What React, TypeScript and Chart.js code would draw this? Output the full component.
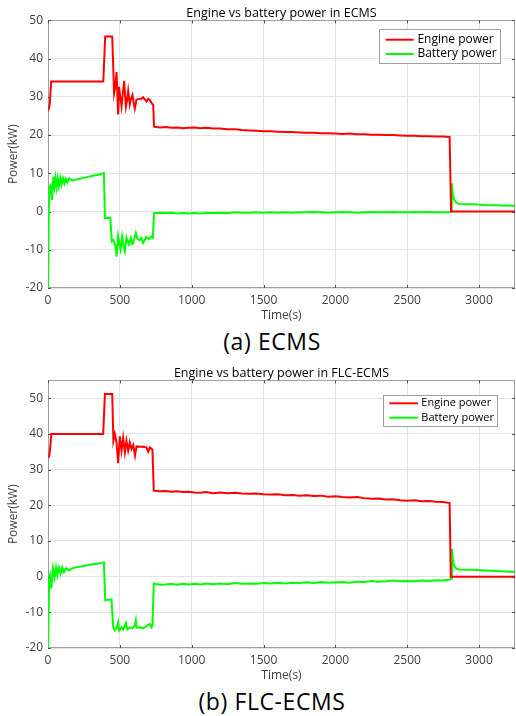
import React, { useEffect, useRef } from "react";
import { Chart, registerables } from "chart.js";

Chart.register(...registerables);

// ---------- tick labels ----------
const xTicks = [0, 500, 1000, 1500, 2000, 2500, 3000];
const yTicks = [-20, -10, 0, 10, 20, 30, 40, 50];
const X_MAX = 3250;

// ---------- (a) ECMS ----------
const ecmsEngineTime = [
  0, 10, 14, 22, 385, 398, 447, 460, 468, 477,
  488, 495, 503, 512, 521, 530, 542, 550, 558, 569,
  578, 588, 596, 604, 616, 630, 650, 662, 675, 685,
  697, 708, 724, 732, 738, 780, 820, 860, 900, 940,
  980, 1020, 1060, 1100, 1150, 1200, 1250, 1300, 1350, 1400,
  1450, 1500, 1550, 1600, 1650, 1700, 1750, 1800, 1850, 1900,
  1950, 2000, 2050, 2100, 2150, 2200, 2250, 2300, 2350, 2400,
  2450, 2500, 2550, 2600, 2650, 2700, 2750, 2795, 2805, 3250,
];
const ecmsEngineKW = [
  26.4, 27.5, 29, 34, 34, 45.8, 45.8, 30.9, 32.5, 36.5,
  25.4, 32.6, 30, 27.5, 31, 34.2, 27.4, 29, 31.6, 28,
  29.5, 30.5, 28.5, 26.9, 29.3, 29.4, 29.5, 29.9, 29.3, 28.8,
  29.5, 29.2, 28.2, 28.0, 22.2, 22.0, 22.1, 21.9, 22.0, 21.8,
  21.9, 22.0, 21.8, 21.9, 21.7, 21.7, 21.5, 21.5, 21.3, 21.2,
  21.1, 21.0, 21.0, 20.9, 20.8, 20.8, 20.7, 20.6, 20.6, 20.5,
  20.5, 20.4, 20.3, 20.4, 20.2, 20.2, 20.1, 20.1, 20.0, 20.0,
  19.9, 19.8, 19.8, 19.7, 19.7, 19.6, 19.6, 19.5, 0, 0,
];
const ecmsBatteryTime = [
  0, 7, 12, 18, 28, 37, 45, 52, 60, 68,
  76, 85, 94, 104, 114, 124, 134, 146, 170, 220,
  270, 320, 360, 389, 396, 433, 444, 454, 462, 470,
  477, 488, 497, 505, 516, 525, 535, 546, 555, 563,
  576, 585, 593, 602, 611, 623, 637, 650, 662, 673,
  685, 704, 720, 730, 738, 780, 820, 860, 900, 940,
  980, 1020, 1060, 1100, 1150, 1200, 1250, 1300, 1350, 1400,
  1450, 1500, 1550, 1600, 1650, 1700, 1750, 1800, 1850, 1900,
  1950, 2000, 2050, 2100, 2150, 2200, 2250, 2300, 2350, 2400,
  2450, 2500, 2550, 2600, 2650, 2700, 2750, 2798, 2805, 2810,
  2816, 2824, 2838, 2860, 2950, 3050, 3150, 3250,
];
const ecmsBatteryKW = [
  -20, 4.8, 6.5, 6.9, 3, 9.1, 6.5, 8.8, 6.3, 8.7,
  6.6, 8.8, 7, 8.7, 7.3, 8.6, 7.6, 8.7, 8.1, 8.6,
  9.0, 9.4, 9.7, 10.1, -1.7, -1.6, -7.8, -7.4, -8.2, -9.1,
  -11.8, -6.5, -8.5, -9.9, -6.6, -8.8, -10.4, -6.9, -8.0, -8.6,
  -6.9, -8.5, -8.2, -6.8, -5.6, -7.2, -7.5, -6.9, -8.2, -7.4,
  -6.6, -7.2, -6.5, -6.8, -0.4, -0.3, -0.4, -0.3, -0.5, -0.4,
  -0.5, -0.4, -0.5, -0.3, -0.4, -0.3, -0.4, -0.2, -0.3, -0.3,
  -0.2, -0.3, -0.2, -0.3, -0.2, -0.3, -0.2, -0.2, -0.1, -0.2,
  -0.3, -0.2, -0.1, -0.2, -0.3, -0.2, -0.1, -0.2, -0.2, -0.1,
  -0.2, -0.2, -0.1, -0.2, -0.1, -0.2, -0.2, -0.1, 0.0, 7.4,
  4.8, 3.4, 2.4, 2.0, 1.9, 1.7, 1.6, 1.5,
];

// ---------- (b) FLC-ECMS ----------
const flcEngineTime = [
  0, 9, 18, 23, 384, 396, 447, 455, 465, 477,
  488, 500, 512, 523, 535, 546, 558, 569, 581, 593,
  606, 616, 639, 662, 685, 697, 708, 720, 727, 736,
  780, 820, 860, 900, 940, 980, 1020, 1060, 1100, 1150,
  1200, 1250, 1300, 1350, 1400, 1450, 1500, 1550, 1600, 1650,
  1700, 1750, 1800, 1850, 1900, 1950, 2000, 2050, 2100, 2150,
  2200, 2250, 2300, 2350, 2400, 2450, 2500, 2550, 2600, 2650,
  2700, 2750, 2795, 2803, 3250,
];
const flcEngineKW = [
  33.2, 33.9, 37.2, 40, 40, 51.2, 51.2, 38.1, 40, 37.6,
  31.8, 39.3, 35.3, 38.9, 34.8, 38.1, 35.3, 37.6, 35.8, 36.9,
  33.9, 36.5, 36.4, 36.4, 36.2, 35, 36.2, 35.8, 35.6, 24.1,
  23.9, 24.0, 23.8, 23.9, 23.7, 23.8, 23.6, 23.5, 23.7, 23.4,
  23.6, 23.4, 23.5, 23.3, 23.2, 23.3, 23.1, 23.0, 23.1, 22.8,
  22.9, 22.7, 22.8, 22.6, 22.7, 22.4, 22.5, 22.3, 22.2, 22.3,
  22.0, 21.8, 21.9, 21.6, 21.7, 21.4, 21.3, 21.4, 21.1, 21.2,
  21.0, 20.9, 20.6, 0, 0,
];
const flcBatteryTime = [
  0, 8, 14, 23, 35, 46, 56, 65, 76, 88,
  99, 111, 127, 146, 169, 192, 240, 290, 340, 389,
  398, 442, 454, 465, 477, 488, 495, 512, 523, 542,
  553, 569, 588, 604, 611, 616, 639, 662, 685, 708,
  720, 727, 736, 780, 820, 860, 900, 940, 980, 1020,
  1060, 1100, 1150, 1200, 1250, 1300, 1350, 1400, 1450, 1500,
  1550, 1600, 1650, 1700, 1750, 1800, 1850, 1900, 1950, 2000,
  2050, 2100, 2150, 2200, 2250, 2300, 2350, 2400, 2450, 2500,
  2550, 2600, 2650, 2700, 2750, 2798, 2805, 2811, 2817, 2825,
  2840, 2860, 2950, 3050, 3150, 3250,
];
const flcBatteryKW = [
  -20, -1, 0.3, -3.3, 2.4, -0.2, 2.6, 0.3, 2.6, 0.8,
  2.6, 1.2, 2.4, 1.7, 2.3, 2.6, 2.9, 3.3, 3.6, 4.0,
  -6.5, -6.4, -14.2, -15.1, -14.5, -12.8, -15.1, -14.2, -14.8, -13,
  -14.8, -14.2, -14.5, -13.7, -12.3, -14.3, -14.2, -14.5, -13.9, -13.2,
  -14.2, -13.7, -2.0, -2.3, -2.2, -2.0, -2.3, -2.0, -2.2, -2.0,
  -2.2, -1.9, -2.1, -1.9, -2.1, -1.8, -2.0, -1.9, -2.0, -1.8,
  -1.9, -1.7, -1.9, -1.7, -1.8, -1.6, -1.8, -1.5, -1.7, -1.6,
  -1.5, -1.7, -1.4, -1.5, -1.2, -1.4, -1.3, -1.1, -1.3, -1.2,
  -1.3, -1.1, -1.2, -1.0, -1.1, -0.8, -0.5, 7.8, 4.8, 3.2,
  2.3, 2.0, 1.9, 1.7, 1.5, 1.3,
];

const seriesLabels = ["Engine power", "Battery power"];

// ---------- styles ----------
const FONT = "'Open Sans', 'Noto Sans', sans-serif";
const GRID = "#e3e3e3";
const BORDER = "#a0a0a0";
const TICK_MARK = "#4d4d4d";
const TICK_TEXT = "#404040";
const ENGINE_COLOR = "#ff0000";
const BATTERY_COLOR = "#00ff00";

type LegendCfg = {
  font: number;
  top: number;
  right: number;
  width: number;
  height: number;
  row1: number;
  row2: number;
  lineX0: number;
  lineX1: number;
  textX: number;
};

function zip(t: number[], v: number[]) {
  return t.map((x, i) => ({ x, y: v[i] }));
}

type PanelProps = {
  top: number;
  title: string;
  caption: string;
  yMax: number;
  engT: number[];
  engV: number[];
  batT: number[];
  batV: number[];
  legend: LegendCfg;
};

function Panel(props: PanelProps) {
  const ref = useRef<HTMLCanvasElement>(null);

  useEffect(() => {
    const canvas = ref.current!;
    const lg = props.legend;

    const framePlugin = {
      id: "frameAndLegend",
      beforeDatasetsDraw(chart: any) {
        const { ctx, chartArea: a, scales } = chart;
        ctx.save();
        ctx.strokeStyle = BORDER;
        ctx.lineWidth = 1;
        ctx.strokeRect(Math.round(a.left) + 0.5, Math.round(a.top) + 0.5,
          Math.round(a.right - a.left) - 1, Math.round(a.bottom - a.top) - 1);
        ctx.strokeStyle = TICK_MARK;
        ctx.beginPath();
        const tl = 3;
        for (const v of xTicks) {
          const px = Math.round(scales.x.getPixelForValue(v)) + 0.5;
          ctx.moveTo(px, a.bottom);
          ctx.lineTo(px, a.bottom - tl);
          ctx.moveTo(px, a.top);
          ctx.lineTo(px, a.top + tl);
        }
        for (const v of yTicks) {
          if (v > props.yMax) continue;
          const py = Math.round(scales.y.getPixelForValue(v)) + 0.5;
          ctx.moveTo(a.left, py);
          ctx.lineTo(a.left + tl, py);
          ctx.moveTo(a.right, py);
          ctx.lineTo(a.right - tl, py);
        }
        ctx.stroke();
        ctx.restore();
      },
      afterDatasetsDraw(chart: any) {
        const { ctx, chartArea: a } = chart;
        const bx = Math.round(a.right - lg.right - lg.width);
        const by = Math.round(a.top + lg.top);
        ctx.save();
        ctx.fillStyle = "#ffffff";
        ctx.fillRect(bx, by, lg.width, lg.height);
        ctx.strokeStyle = BORDER;
        ctx.lineWidth = 1;
        ctx.strokeRect(bx + 0.5, by + 0.5, lg.width, lg.height);
        chart.data.datasets.forEach((ds: any, i: number) => {
          const y = by + (i === 0 ? lg.row1 : lg.row2);
          ctx.strokeStyle = ds.borderColor;
          ctx.lineWidth = 2;
          ctx.beginPath();
          ctx.moveTo(bx + lg.lineX0, y);
          ctx.lineTo(bx + lg.lineX1, y);
          ctx.stroke();
          ctx.fillStyle = "#000000";
          ctx.font = `${lg.font}px ${FONT}`;
          ctx.textBaseline = "middle";
          ctx.textAlign = "left";
          ctx.fillText(ds.label, bx + lg.textX, y);
        });
        ctx.restore();
      },
    };

    const tickFont = { family: FONT, size: 12 };

    const chart = new Chart(canvas, {
      type: "line",
      data: {
        datasets: [
          {
            label: seriesLabels[0],
            data: zip(props.engT, props.engV),
            borderColor: ENGINE_COLOR,
            backgroundColor: ENGINE_COLOR,
            borderWidth: 2,
            pointRadius: 0,
            tension: 0,
            fill: false,
          },
          {
            label: seriesLabels[1],
            data: zip(props.batT, props.batV),
            borderColor: BATTERY_COLOR,
            backgroundColor: BATTERY_COLOR,
            borderWidth: 2,
            pointRadius: 0,
            tension: 0,
            fill: false,
          },
        ],
      },
      options: {
        responsive: false,
        animation: false,
        devicePixelRatio: 1,
        events: [],
        layout: { padding: { left: 0, right: 1, top: 0, bottom: 0 } },
        plugins: {
          legend: { display: false },
          tooltip: { enabled: false },
          title: {
            display: true,
            text: props.title,
            fullSize: false,
            color: "#000000",
            font: { family: FONT, size: 12.5, weight: "normal", lineHeight: 1.15 },
            padding: { top: 6, bottom: 0 },
          },
        },
        scales: {
          x: {
            type: "linear",
            min: 0,
            max: X_MAX,
            afterBuildTicks: (s: any) => {
              s.ticks = xTicks.map((v) => ({ value: v }));
            },
            afterFit: (s: any) => {
              s.height = 37;
            },
            grid: { color: GRID, drawTicks: false, lineWidth: 1 },
            border: { display: false },
            ticks: {
              color: TICK_TEXT,
              font: tickFont,
              padding: 5,
              maxRotation: 0,
              autoSkip: false,
              callback: (v: any) => String(v),
            },
            title: {
              display: true,
              text: "Time(s)",
              color: TICK_TEXT,
              font: tickFont,
              padding: { top: 0, bottom: 2 },
            },
          },
          y: {
            type: "linear",
            min: -20,
            max: props.yMax,
            afterBuildTicks: (s: any) => {
              s.ticks = yTicks.filter((v) => v <= props.yMax).map((v) => ({ value: v }));
            },
            afterFit: (s: any) => {
              s.width = 48;
            },
            grid: { color: GRID, drawTicks: false, lineWidth: 1 },
            border: { display: false },
            ticks: {
              color: TICK_TEXT,
              font: tickFont,
              padding: 5,
              autoSkip: false,
              callback: (v: any) => String(v),
            },
            title: {
              display: true,
              text: "Power(kW)",
              color: TICK_TEXT,
              font: tickFont,
              padding: { top: 6, bottom: 0 },
            },
          },
        },
      },
      plugins: [framePlugin],
    } as any);

    return () => chart.destroy();
  }, []);

  return (
    <div style={{ position: "absolute", left: 0, top: props.top, width: 516, height: 360 }}>
      <canvas ref={ref} width={516} height={325} style={{ display: "block", width: 516, height: 325 }} />
      <div
        style={{
          position: "absolute",
          top: 327,
          left: 272,
          transform: "translateX(-50%)",
          whiteSpace: "nowrap",
          fontFamily: FONT,
          fontSize: 23,
          lineHeight: "28px",
          color: "#000",
          letterSpacing: "0.6px",
        }}
      >
        {props.caption}
      </div>
    </div>
  );
}

export default function App() {
  return (
    <div style={{ position: "fixed", left: 0, top: 0, width: 516, height: 716, background: "#fff", overflow: "hidden" }}>
      <Panel
        top={0}
        title="Engine vs battery power in ECMS"
        caption="(a) ECMS"
        yMax={50}
        engT={ecmsEngineTime}
        engV={ecmsEngineKW}
        batT={ecmsBatteryTime}
        batV={ecmsBatteryKW}
        legend={{ font: 12, top: 9, right: 15, width: 121, height: 34, row1: 10.7, row2: 25, lineX0: 6.7, lineX1: 34.7, textX: 38.4 }}
      />
      <Panel
        top={360}
        title="Engine vs battery power in FLC-ECMS"
        caption="(b) FLC-ECMS"
        yMax={55}
        engT={flcEngineTime}
        engV={flcEngineKW}
        batT={flcBatteryTime}
        batV={flcBatteryKW}
        legend={{ font: 11, top: 14.5, right: 18, width: 114, height: 31, row1: 8.3, row2: 22.7, lineX0: 6.3, lineX1: 35, textX: 38.3 }}
      />
    </div>
  );
}
